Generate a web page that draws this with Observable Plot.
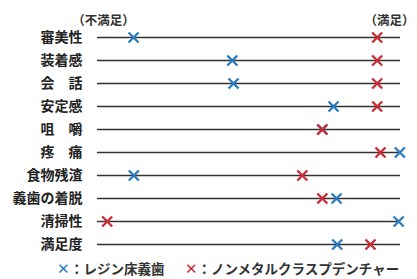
<!DOCTYPE html>
<html><head><meta charset="utf-8">
<script src="https://cdn.jsdelivr.net/npm/d3@7"></script>
<script src="https://cdn.jsdelivr.net/npm/@observablehq/plot@0.6"></script>
<style>
body{margin:0;background:#fff;overflow:hidden;font-family:"Noto Sans CJK JP",sans-serif;}
#chart svg{display:block;}
#legend{height:21px;line-height:21px;font-size:13.5px;font-weight:bold;color:#333;padding-left:57px;white-space:nowrap;}
#legend .m{font-weight:normal;font-size:15px;line-height:1;}
#legend .gap{display:inline-block;width:20px;}
</style></head><body>
<div id="chart"></div>
<div id="legend"><span class="m" style="color:#2c7cc0">✕</span>：レジン床義歯<span class="gap"></span><span class="m" style="color:#cc2b37">✕</span>：ノンメタルクラスプデンチャー</div>
<script>
const categories = ["審美性","装着感","会　話","安定感","咀　嚼","疼　痛","食物残渣","義歯の着脱","清掃性","満足度"];
const resin =    [11.9, 44.5, 44.9, 77.9, 74.2, 99.8, 12.0, 78.9, 99.4, 79.1];
const nonmetal = [92.3, 92.3, 92.3, 92.3, 74.2, 93.4, 67.6, 74.2, 3.2, 90.1];
const lowLabel = "（不満足）", highLabel = "（満足）";
const blue = "#2c7cc0", red = "#cc2b37";

const rows = categories.map((c,i)=>({c, resin:resin[i], nonmetal:nonmetal[i]}));

const chart = Plot.plot({
  width: 417, height: 258,
  marginLeft: 97, marginRight: 17, marginTop: 37, marginBottom: 14,
  x: {domain:[0,100], axis:null},
  y: {type:"point", domain:categories, padding:0, axis:null},
  style: {fontFamily:'"Noto Sans CJK JP", sans-serif'},
  marks: [
    Plot.ruleY(categories, {y:d=>d, x1:0, x2:100, stroke:"#333", strokeWidth:1.4}),
    Plot.text(categories, {x:0, y:d=>d, text:d=>d, textAnchor:"end", dx:-15, fontSize:14, fontWeight:"bold", fill:"#222"}),
    Plot.text([lowLabel], {x:()=>0, y:()=>categories[0], text:d=>d, dx:6, dy:-17, fontSize:12.5, fontWeight:"bold", fill:"#333", textAnchor:"middle"}),
    Plot.text([highLabel], {x:()=>100, y:()=>categories[0], text:d=>d, dx:-11, dy:-17, fontSize:12.5, fontWeight:"bold", fill:"#333", textAnchor:"middle"}),
    Plot.dot(rows, {x:"resin", y:"c", symbol:"times", r:4.6, stroke:blue, strokeWidth:2.4}),
    Plot.dot(rows, {x:"nonmetal", y:"c", symbol:"times", r:4.6, stroke:red, strokeWidth:2.4})
  ]
});
document.getElementById("chart").appendChild(chart);
</script>
</body></html>
